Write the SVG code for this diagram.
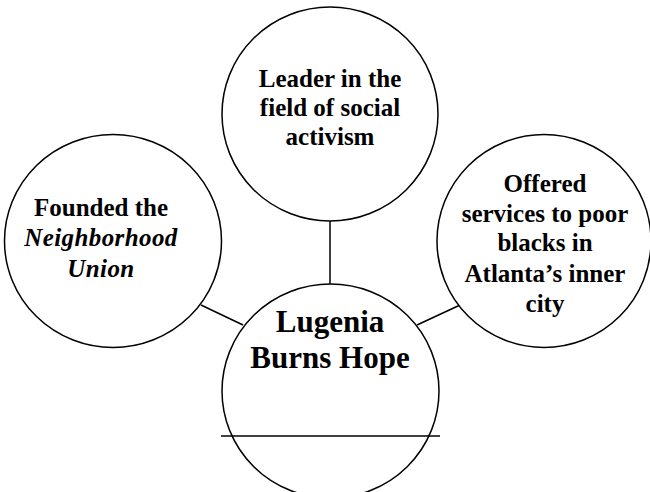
<svg xmlns="http://www.w3.org/2000/svg" width="650" height="492" viewBox="0 0 650 492">
<style>
.c{fill:#fff;stroke:#000;stroke-width:1.5}
.l{stroke:#000;stroke-width:1.5;fill:none}
.t{font-family:"Liberation Serif","Times New Roman",serif;font-weight:bold;font-size:25px;text-anchor:middle;fill:#000}
.i{font-style:italic;letter-spacing:0.4px}
.big{font-size:31px}
</style>
<rect width="650" height="492" fill="#fff"/>
<g id="connectors">
<line class="l" x1="330" y1="221" x2="330" y2="284"/>
<line class="l" x1="201" y1="305" x2="243" y2="325"/>
<line class="l" x1="459" y1="305.5" x2="417" y2="325"/>
</g>
<g id="top">
<ellipse class="c" cx="330" cy="114" rx="108" ry="107"/>
<text class="t" x="330" y="87">Leader in the</text>
<text class="t" x="330" y="116">field of social</text>
<text class="t" x="330" y="145">activism</text>
</g>
<g id="left">
<ellipse class="c" cx="113" cy="241" rx="108.5" ry="106.5"/>
<text class="t" x="101" y="216">Founded the</text>
<text class="t i" x="101" y="246">Neighborhood</text>
<text class="t i" x="101" y="276.5">Union</text>
</g>
<g id="right">
<ellipse class="c" cx="544" cy="241" rx="107" ry="106.5"/>
<text class="t" x="545" y="191.5">Offered</text>
<text class="t" x="545" y="221.5">services to poor</text>
<text class="t" x="545" y="251">blacks in</text>
<text class="t" x="545" y="281.5">Atlanta’s inner</text>
<text class="t" x="545" y="311.5">city</text>
</g>
<g id="center">
<ellipse class="c" cx="330.5" cy="391" rx="108.5" ry="107"/>
<text class="t big" x="330" y="331.5">Lugenia</text>
<text class="t big" x="330" y="367.5">Burns Hope</text>
<line class="l" x1="221" y1="436" x2="440" y2="436"/>
</g>
</svg>
